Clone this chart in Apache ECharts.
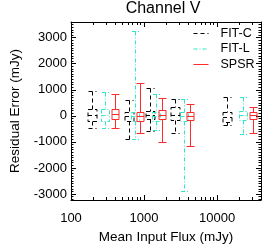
<!DOCTYPE html>
<html>
<head>
<meta charset="utf-8">
<script src="https://cdn.jsdelivr.net/npm/echarts@6/dist/echarts.min.js"></script>
<style>html,body{margin:0;padding:0;background:#fff}#c{width:262px;height:249px}</style>
</head>
<body>
<div id="c"></div>
<script>
// ---- data ----
const seriesNames = ['FIT-C', 'FIT-L', 'SPSR'];
const fluxC = [195, 625, 1220, 2690, 13800];
const fluxL = [295, 760, 1470, 3550, 22500];
const fluxS = [400, 880, 1780, 4300, 31000];
// [min, q1, median, q3, max]
const boxC = [[-470,-200,40,260,940],[-880,-180,0,150,610],[-580,-140,20,170,1070],[-640,-170,40,330,650],[-340,-250,-30,160,720]];
const boxL = [[-470,-190,40,250,930],[-880,-180,0,160,3250],[-560,-190,10,160,830],[-2890,-190,0,160,640],[-680,-170,20,170,740]];
const boxS = [[-460,-120,70,250,850],[-640,-190,-20,160,1260],[-1000,-130,50,240,680],[-1140,-170,0,160,450],[-640,-130,30,160,340]];
const xMajorTicks = [100, 1000, 10000];
const xMinorTicks = [200,300,400,500,600,700,800,900,2000,3000,4000,5000,6000,7000,8000,9000,20000,30000,40000];
const yMajorTicks = [-3000,-2000,-1000,0,1000,2000,3000];
const yMinorTicks = [];
for (let v = -3200; v <= 3600; v += 100) { if (v % 1000 !== 0) yMinorTicks.push(v); }

const colors = {'FIT-C': '#000000', 'FIT-L': '#33e6c4', 'SPSR': '#ff2a2a'};
const dashes = {'FIT-C': [4, 3], 'FIT-L': [4, 2, 1, 2], 'SPSR': null};
const FONT = 'Liberation Sans';

function boxSeries(name, xs, boxes, halfBox, halfCap) {
  const data = xs.map((x, i) => [x].concat(boxes[i]));
  return {
    type: 'custom', name: name + ' box', xAxisIndex: 0, yAxisIndex: 0, silent: true,
    data: data, encode: {x: 0, y: [1, 2, 3, 4, 5]},
    renderItem: function (params, api) {
      const x = api.value(0);
      const p = [1, 2, 3, 4, 5].map(k => api.coord([x, api.value(k)]));
      const cx = Math.round(p[0][0]) + 0.5;
      const yy = p.map(q => Math.round(q[1]) + 0.5);
      const style = {stroke: colors[name], lineWidth: 1, fill: null, lineDash: dashes[name]};
      const line = (x1, y1, x2, y2) => ({type: 'line', shape: {x1, y1, x2, y2}, style});
      return {type: 'group', children: [
        line(cx, yy[4], cx, yy[3]),
        line(cx, yy[1], cx, yy[0]),
        line(cx - halfCap, yy[4], cx + halfCap, yy[4]),
        line(cx - halfCap, yy[0], cx + halfCap, yy[0]),
        {type: 'rect', shape: {x: cx - halfBox, y: yy[3], width: 2 * halfBox, height: yy[1] - yy[3]}, style},
        line(cx - halfBox, yy[2], cx + halfBox, yy[2])
      ]};
    }
  };
}

const axisLineStyle = {color: '#000', width: 1};
const xBase = {type: 'log', logBase: 10, min: 100, max: 40000, gridIndex: 0, splitLine: {show: false}};
const yBase = {type: 'value', min: -3230, max: 3600, gridIndex: 0, splitLine: {show: false}};

const option = {
  animation: false,
  backgroundColor: '#fff',
  textStyle: {fontFamily: FONT},
  title: {text: 'Channel V', left: 163, top: 1, padding: 0, textAlign: 'center',
    textStyle: {fontFamily: FONT, fontSize: 16, fontWeight: 'normal', color: '#000'}},
  grid: {left: 64, top: 22, width: 197, height: 179, containLabel: false},
  legend: {
    data: seriesNames, orient: 'vertical', left: 193, top: 27, padding: 0,
    itemWidth: 15, itemHeight: 12, itemGap: 2.5,
    itemStyle: {opacity: 0},
    lineStyle: {width: 1},
    textStyle: {fontFamily: FONT, fontSize: 12.5, color: '#000', padding: [0, 0, 0, 7]},
    selectedMode: false
  },
  xAxis: [
    Object.assign({}, xBase, {position: 'bottom',
      axisLine: {show: true, onZero: false, lineStyle: axisLineStyle},
      axisTick: {show: true, inside: true, length: 5, customValues: xMajorTicks, lineStyle: axisLineStyle},
      axisLabel: {show: true, customValues: xMajorTicks, margin: 12, fontSize: 13, color: '#000', fontFamily: FONT,
        formatter: v => String(Math.round(v))},
      name: 'Mean Input Flux (mJy)', nameLocation: 'middle', nameGap: 30,
      nameTextStyle: {fontSize: 13.5, color: '#000', fontFamily: FONT}}),
    Object.assign({}, xBase, {position: 'bottom',
      axisLine: {show: false, onZero: false},
      axisTick: {show: true, inside: true, length: 3, customValues: xMinorTicks, lineStyle: axisLineStyle},
      axisLabel: {show: false}}),
    Object.assign({}, xBase, {position: 'top',
      axisLine: {show: true, onZero: false, lineStyle: axisLineStyle},
      axisTick: {show: true, inside: true, length: 5, customValues: xMajorTicks, lineStyle: axisLineStyle},
      axisLabel: {show: false}}),
    Object.assign({}, xBase, {position: 'top',
      axisLine: {show: false, onZero: false},
      axisTick: {show: true, inside: true, length: 3, customValues: xMinorTicks, lineStyle: axisLineStyle},
      axisLabel: {show: false}})
  ],
  yAxis: [
    Object.assign({}, yBase, {position: 'left',
      axisLine: {show: true, onZero: false, lineStyle: axisLineStyle},
      axisTick: {show: true, inside: true, length: 5, customValues: yMajorTicks, lineStyle: axisLineStyle},
      axisLabel: {show: true, customValues: yMajorTicks, margin: 4, fontSize: 13, color: '#000', fontFamily: FONT,
        formatter: v => String(Math.round(v))},
      name: 'Residual Error (mJy)', nameLocation: 'middle', nameGap: 49,
      nameTextStyle: {fontSize: 13.5, color: '#000', fontFamily: FONT}}),
    Object.assign({}, yBase, {position: 'left',
      axisLine: {show: false, onZero: false},
      axisTick: {show: true, inside: true, length: 2.5, customValues: yMinorTicks, lineStyle: axisLineStyle},
      axisLabel: {show: false}}),
    Object.assign({}, yBase, {position: 'right',
      axisLine: {show: true, onZero: false, lineStyle: axisLineStyle},
      axisTick: {show: true, inside: true, length: 5, customValues: yMajorTicks, lineStyle: axisLineStyle},
      axisLabel: {show: false}}),
    Object.assign({}, yBase, {position: 'right',
      axisLine: {show: false, onZero: false},
      axisTick: {show: true, inside: true, length: 2.5, customValues: yMinorTicks, lineStyle: axisLineStyle},
      axisLabel: {show: false}})
  ],
  series: [
    boxSeries('FIT-C', fluxC, boxC, 4.5, 4),
    boxSeries('FIT-L', fluxL, boxL, 4, 3.5),
    boxSeries('SPSR', fluxS, boxS, 3.5, 4)
  ].concat(seriesNames.map(n => ({
    type: 'line', name: n, data: [], symbol: 'none', xAxisIndex: 0, yAxisIndex: 0,
    itemStyle: {color: colors[n]},
    lineStyle: {color: colors[n], width: 1, type: dashes[n] || 'solid'}
  })))
};

const chart = echarts.init(document.getElementById('c'), null, {renderer: 'canvas'});
chart.setOption(option);
</script>
</body>
</html>
